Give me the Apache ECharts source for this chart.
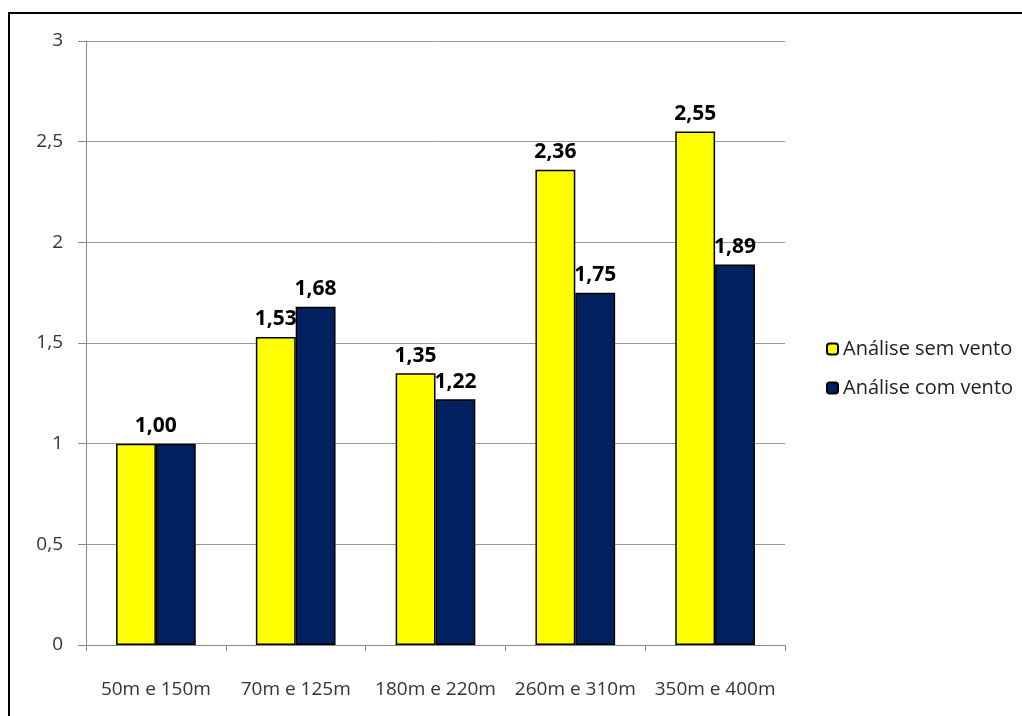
<!DOCTYPE html>
<html>
<head>
<meta charset="utf-8">
<script src="https://cdn.jsdelivr.net/npm/echarts@6/dist/echarts.min.js"></script>
<style>
  html, body { margin: 0; padding: 0; background: #fff; }
  #chart { width: 1022px; height: 716px; }
</style>
</head>
<body>
<div id="chart"></div>
<script>
const categories = ['50m e 150m', '70m e 125m', '180m e 220m', '260m e 310m', '350m e 400m']
const semVento = [1.00, 1.53, 1.35, 2.36, 2.55]
const comVento = [1.00, 1.68, 1.22, 1.75, 1.89]
const seriesNames = ['Análise sem vento', 'Análise com vento']

const fmt = v => String(v).replace('.', ',')
const fmt2 = v => v.toFixed(2).replace('.', ',')

// where both bars of a pair share the same value only one label is shown, centred on the pair
const semData = semVento.map((v, i) => v === comVento[i] ? { value: v, label: { show: false } } : v)
const comData = comVento.map((v, i) => v === semVento[i] ? { value: v, label: { offset: [-20, 0] } } : v)

const labelStyle = {
  show: true,
  position: 'top',
  fontSize: 21,
  fontWeight: 'bold',
  color: '#000',
  distance: 7,
  formatter: p => fmt2(p.value)
}

const chart = echarts.init(document.getElementById('chart'))
chart.setOption({
  animation: false,
  textStyle: { fontFamily: 'Open Sans' },
  graphic: [{
    type: 'rect',
    shape: { x: 9, y: 13, width: 1200, height: 900 },
    style: { fill: 'none', stroke: '#000', lineWidth: 2 },
    silent: true
  }],
  grid: { left: 86, right: 237, top: 41, bottom: 71 },
  legend: {
    orient: 'vertical',
    left: 821,
    top: 334,
    itemWidth: 11,
    itemHeight: 11,
    itemGap: 19,
    textStyle: { fontSize: 20, color: '#222' },
    data: seriesNames
  },
  xAxis: {
    type: 'category',
    data: categories,
    axisLine: { lineStyle: { color: '#888' } },
    axisTick: { show: true, length: 6, lineStyle: { color: '#888' } },
    axisLabel: { fontSize: 19, color: '#333', margin: 35, interval: 0 }
  },
  yAxis: {
    type: 'value',
    min: 0,
    max: 3,
    interval: 0.5,
    axisLine: { show: true, lineStyle: { color: '#888' } },
    axisTick: { show: true, length: 8, lineStyle: { color: '#888' } },
    splitLine: { lineStyle: { color: '#999' } },
    axisLabel: { fontSize: 19, color: '#333', margin: 23, formatter: fmt }
  },
  series: [
    {
      name: seriesNames[0],
      type: 'bar',
      data: semData,
      barGap: '0%',
      barCategoryGap: '43%',
      itemStyle: { color: '#ffff00', borderColor: '#000', borderWidth: 1.5 },
      label: labelStyle
    },
    {
      name: seriesNames[1],
      type: 'bar',
      data: comData,
      itemStyle: { color: '#002060', borderColor: '#000', borderWidth: 1.5 },
      label: labelStyle
    }
  ]
})
</script>
</body>
</html>
